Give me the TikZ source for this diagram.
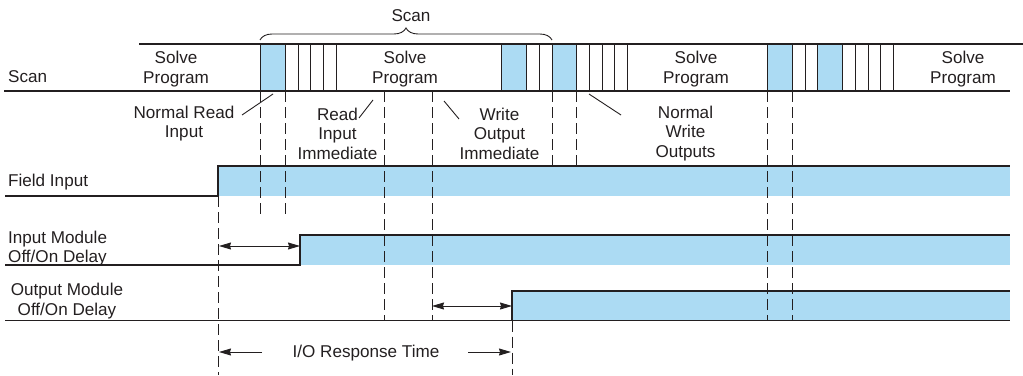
\documentclass[tikz,border=0pt]{standalone}
\usepackage{fontspec}
\setmainfont{Liberation Sans}
\usetikzlibrary{arrows.meta,decorations.pathreplacing}
\definecolor{sigblue}{RGB}{172,219,243}
\definecolor{ink}{RGB}{35,31,32}
\tikzset{
  lbl/.style={font=\fontsize{17.1}{19.5}\selectfont, text=ink, inner sep=0pt, align=center},
  wire/.style={draw=ink, line width=1.1pt},
  thin/.style={draw=ink, line width=0.9pt},
  dsh/.style={draw=ink, line width=1pt, dash pattern=on 11pt off 5pt},
  hi/.style={fill=sigblue, draw=none},
  dim/.style={draw=ink, line width=0.9pt, {Stealth[length=12pt,width=7pt,inset=1pt]}-{Stealth[length=12pt,width=7pt,inset=1pt]}},
  dimr/.style={draw=ink, line width=0.9pt, -{Stealth[length=12pt,width=7pt,inset=1pt]}},
}
\begin{document}
\begin{tikzpicture}[x=1pt,y=-1pt]
\useasboundingbox (0,0) rectangle (1023,375);
% ---------- scan bar ----------
\foreach \a/\b in {260/285,501/526,552/576,767/792,817/842}{
  \fill[sigblue] (\a,44) rectangle (\b,91);
  \draw[thin] (\a,44) -- (\a,91) (\b,44) -- (\b,91);
}
\foreach \x in {298,310.7,323,336,539,589,602,614,627,805,855,868,880,893}{
  \draw[thin] (\x,44) -- (\x,91);
}
\draw[wire] (139,44) -- (1023,44);
\draw[wire] (4,91) -- (1010,91);
\draw[thin, decorate, decoration={brace, amplitude=12pt}] (260,40) -- (552,40);
\node[lbl] (scantop) at (411,15.5) {Scan};
\node[lbl, anchor=west] (scanlbl) at (8,77) {Scan};
\node[lbl] (solve1) at (176,69) {Solve\\Program};
\node[lbl] (solve2) at (405,69) {Solve\\Program};
\node[lbl] (solve3) at (696,69) {Solve\\Program};
\node[lbl] (solve4) at (963,69) {Solve\\Program};
% ---------- annotations ----------
\node[lbl] (nri) at (184,123.5) {Normal Read\\Input};
\node[lbl] (rii) at (337.5,133.5) {Read\\Input\\Immediate};
\node[lbl] (woi) at (499.5,133.5) {Write\\Output\\Immediate};
\node[lbl] (nwo) at (685.5,133.5) {Normal\\Write\\Outputs};
\coordinate (l1a) at (242,115); \coordinate (l1b) at (273,94);
\coordinate (l2a) at (359,118); \coordinate (l2b) at (373,100);
\coordinate (l3a) at (444,101); \coordinate (l3b) at (459,119);
\coordinate (l4a) at (589,94);  \coordinate (l4b) at (621,115);
\draw[thin] (l1a) -- (l1b);
\draw[thin] (l2a) -- (l2b);
\draw[thin] (l3a) -- (l3b);
\draw[thin] (l4a) -- (l4b);
% ---------- signals ----------
\fill[sigblue] (218,166) rectangle (1010,196);
\draw[wire] (5,196) -- (218,196) -- (218,166) -- (1010,166);
\node[lbl, anchor=west] (fi) at (8,182) {Field Input};

\fill[sigblue] (300,235) rectangle (1010,265);
\draw[wire] (5,265) -- (300,265) -- (300,235) -- (1010,235);
\node[lbl, anchor=west, align=left] (im) at (8,248.5) {Input Module\\Off/On Delay};

\fill[sigblue] (512,291) rectangle (1010,320.5);
\draw[wire] (5,320.5) -- (1010,320.5);
\draw[wire] (512,320.5) -- (512,291) -- (1010,291);
\node[lbl] (om) at (67,301) {Output Module\\Off/On Delay};
% ---------- dashed markers ----------
\draw[dsh] (260,91) -- (260,217);
\draw[dsh] (285,91) -- (285,217);
\draw[dsh] (384,91) -- (384,320);
\draw[dsh] (432,91) -- (432,320);
\draw[dsh] (552,91) -- (552,166);
\draw[dsh] (576,91) -- (576,166);
\draw[dsh] (767,91) -- (767,320);
\draw[dsh] (792,91) -- (792,320);
\draw[dsh] (218,196) -- (218,375);
\draw[dsh] (512,320.5) -- (512,375);
% ---------- delay arrows ----------
\coordinate (ia) at (219,246); \coordinate (ib) at (300,246);
\draw[dim] (ia) -- (ib);
\coordinate (oa) at (432,306); \coordinate (ob) at (512,306);
\draw[dim] (oa) -- (ob);
\node[lbl] (rt) at (366,353) {I/O Response Time};
\coordinate (ra) at (262,352); \coordinate (rb) at (219,352);
\coordinate (rc) at (468,352); \coordinate (rd) at (511,352);
\draw[dimr] (ra) -- (rb);
\draw[dimr] (rc) -- (rd);
\end{tikzpicture}
\end{document}
